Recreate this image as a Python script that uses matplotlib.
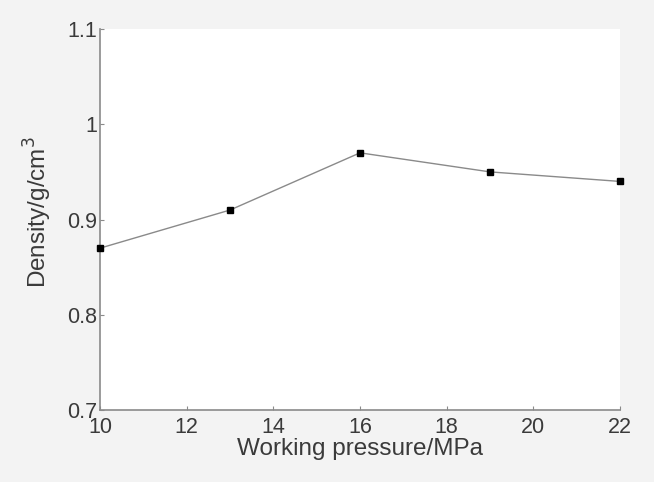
import matplotlib
matplotlib.use("Agg")
import matplotlib.pyplot as plt

# data
pressure = [10, 13, 16, 19, 22]
density = [0.87, 0.91, 0.97, 0.95, 0.94]
xticks = [10, 12, 14, 16, 18, 20, 22]
yticks = [0.7, 0.8, 0.9, 1.0, 1.1]
ytick_labels = ["0.7", "0.8", "0.9", "1", "1.1"]

plt.rcParams['font.family'] = ['Liberation Sans', 'DejaVu Sans']

fig = plt.figure(figsize=(6.54, 4.82), dpi=100, facecolor="#f3f3f3")
ax = fig.add_axes([0.153, 0.149, 0.795, 0.791])
ax.set_facecolor("white")

ax.plot(pressure, density, color="#8a8a8a", linewidth=1.0,
        marker="s", markersize=5, markerfacecolor="black",
        markeredgecolor="black", zorder=3, clip_on=False)

ax.set_xlim(10, 22)
ax.set_ylim(0.7, 1.1)
ax.set_xticks(xticks)
ax.set_yticks(yticks)
ax.set_yticklabels(ytick_labels)

for side in ["top", "right"]:
    ax.spines[side].set_visible(False)
for side in ["left", "bottom"]:
    ax.spines[side].set_color("#8a8a8a")
    ax.spines[side].set_linewidth(1.2)

ax.tick_params(direction="in", length=3, width=0.8, color="#8a8a8a",
               labelsize=15.5, labelcolor="#3a3a3a")
ax.tick_params(axis="x", pad=5)
ax.tick_params(axis="y", pad=2)

ax.set_xlabel("Working pressure/MPa", fontsize=17.5, color="#3a3a3a", labelpad=0)
ax.set_ylabel("Density/g/cm$^3$", fontsize=17.5, color="#3a3a3a")
ax.yaxis.set_label_coords(-0.088, 0.52)

fig.savefig("out.png", dpi=100, facecolor=fig.get_facecolor())
